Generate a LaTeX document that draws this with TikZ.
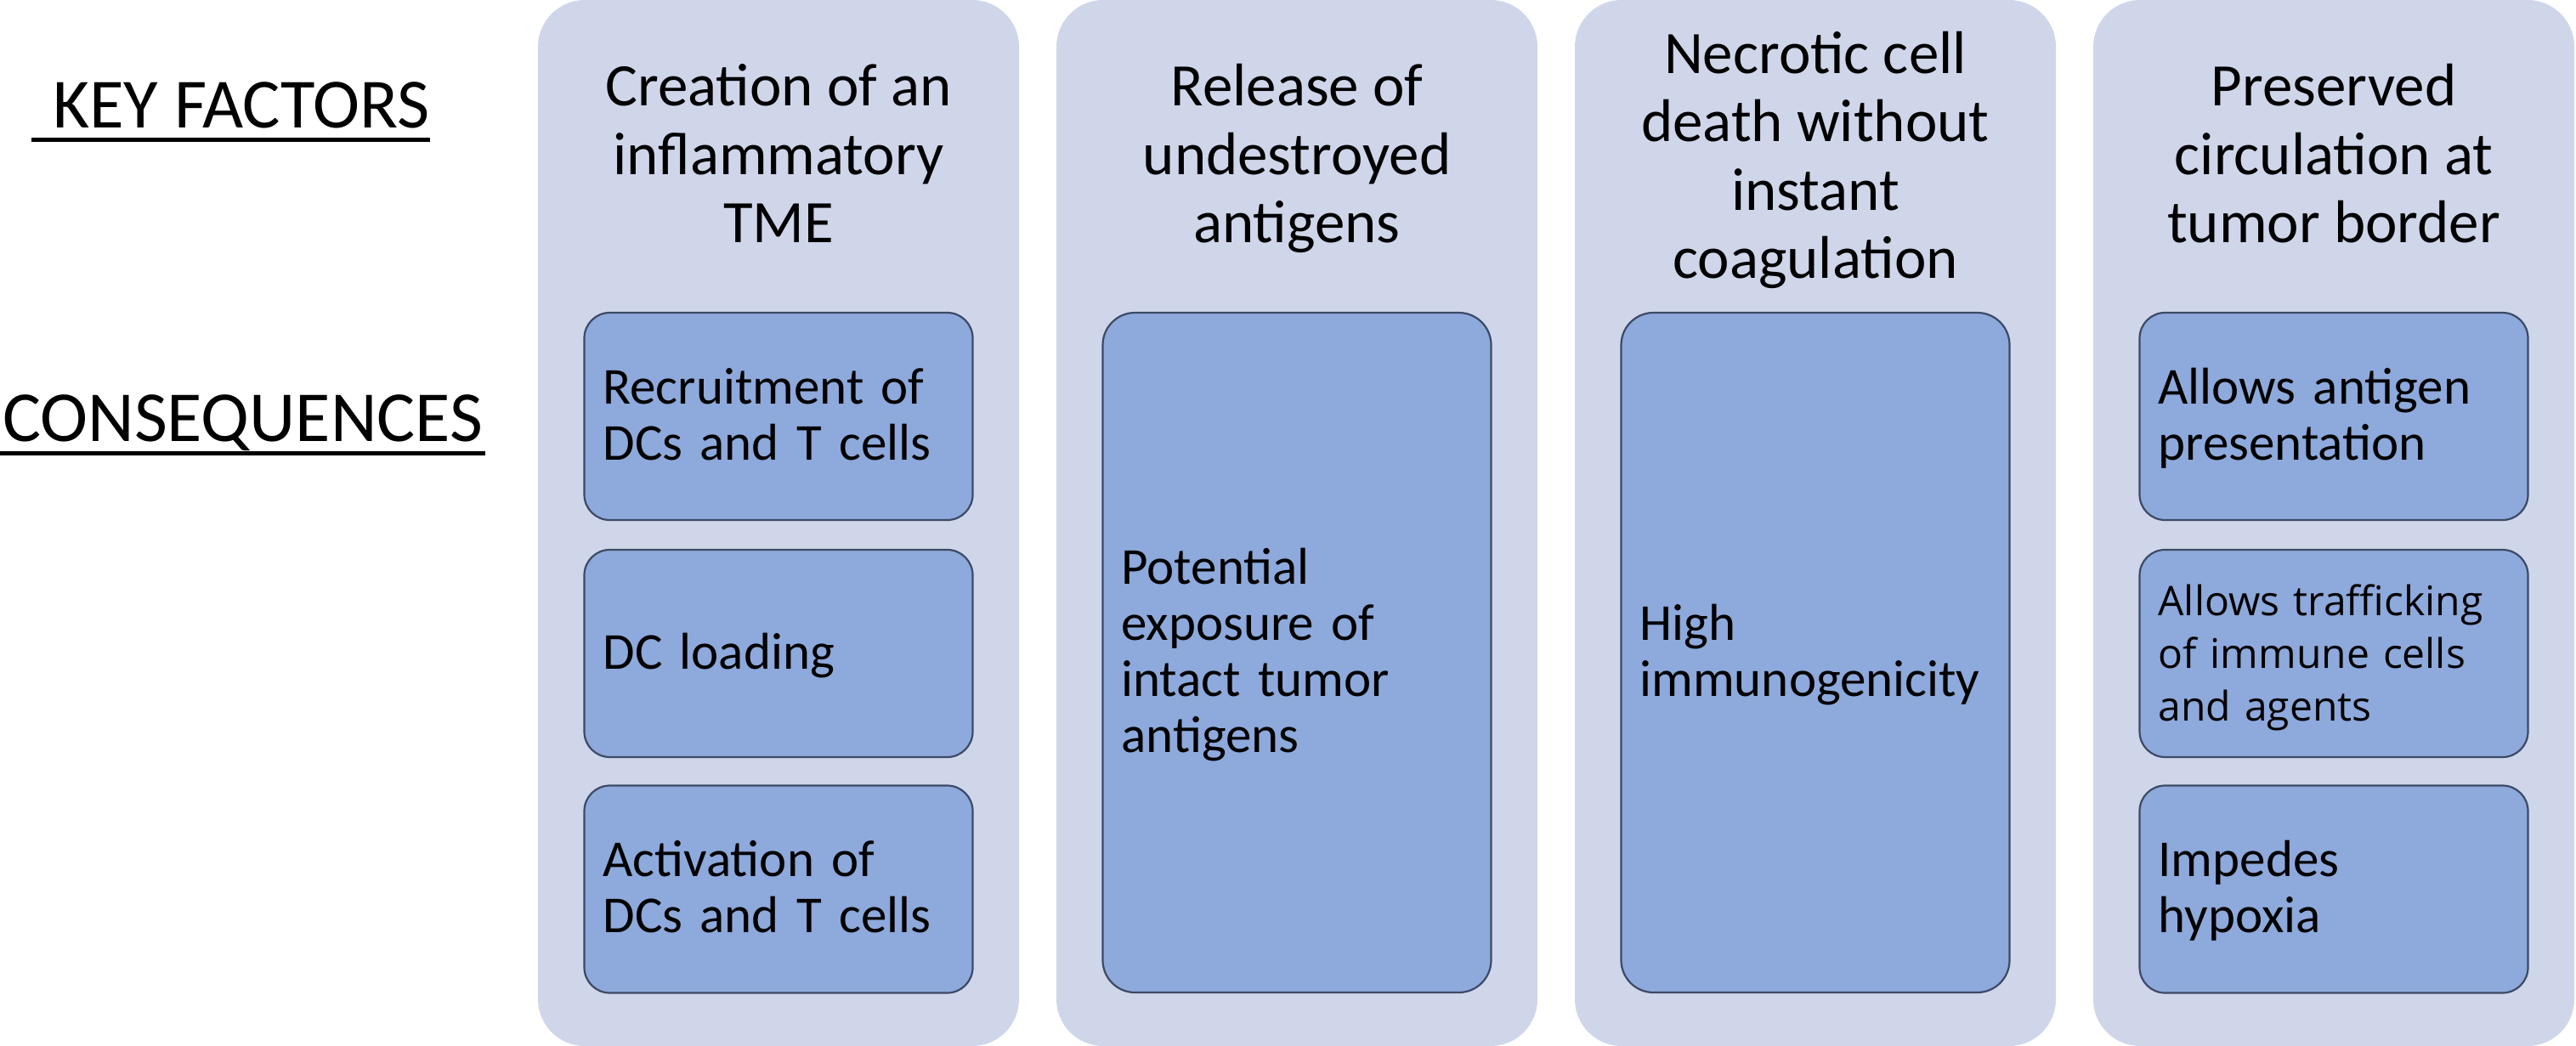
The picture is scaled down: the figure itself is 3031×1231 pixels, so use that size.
\documentclass[tikz,border=0pt]{standalone}
\usepackage{fontspec}
\setmainfont{Carlito}
\newfontfamily\osans{Open Sans}
\usetikzlibrary{calc}
\definecolor{colbg}{HTML}{D0D6EA}
\definecolor{boxfill}{HTML}{8EA9DB}
\definecolor{boxline}{HTML}{3C4A66}
\newcommand\tstrut{\rule{0pt}{\dimexpr0.7\baselineskip+10pt\relax}}
\begin{document}
\begin{tikzpicture}[x=1pt,y=-1pt,
  colbox/.style={fill=colbg, rounded corners=55pt, minimum width=566pt, minimum height=1231pt, inner sep=0pt},
  hdr/.style={align=center, inner sep=0pt, font=\fontsize{71}{80.5}\selectfont},
  cbox/.style={draw=boxline, line width=2.2pt, fill=boxfill, rounded corners=30pt, minimum width=457pt, text width=413pt, inner xsep=22pt, inner ysep=0pt, align=left, font=\fontsize{61}{66}\selectfont},
  smallbox/.style={cbox, minimum height=244pt},
  tallbox/.style={cbox, minimum height=800pt, rounded corners=38pt},
  side/.style={inner sep=0pt, anchor=base west},
  uline/.style={line width=5pt}
]
\useasboundingbox (0,0) rectangle (3031,1231);

% side labels
\node[side, font=\fontsize{83}{97}\selectfont] (kf) at (62,150) {KEY FACTORS};
\draw[uline] ($(kf.base west)+(-25,14)$) -- ($(kf.base east)+(0,14)$);
\node[side, font=\fontsize{84.5}{97}\selectfont] (cq) at (3,519) {CONSEQUENCES};
\draw[uline] ($(cq.base west)+(-3,14)$) -- ($(cq.base east)+(3,14)$);

% columns
\node[colbox] (c1) at (916,615.5) {};
\node[colbox] (c2) at (1526,615.5) {};
\node[colbox] (c3) at (2136,615.5) {};
\node[colbox] (c4) at (2746,615.5) {};

% headers
\node[hdr] (h1) at (916,189) {\strut Creation of an\\inflammatory\\TME\strut};
\node[hdr] (h2) at (1526,189) {\strut Release of\\undestroyed\\antigens\strut};
\node[hdr] (h3) at (2136,191) {\strut Necrotic cell\\death without\\instant\\coagulation\strut};
\node[hdr] (h4) at (2746,189) {\strut Preserved\\circulation at\\tumor border\strut};

% consequence boxes
\node[smallbox] (b11) at (916,490) {\tstrut Recruitment of\\DCs and T cells\strut};
\node[smallbox] (b12) at (916,769) {\tstrut DC loading\strut};
\node[smallbox] (b13) at (916,1046.5) {\tstrut Activation of\\DCs and T cells\strut};

\node[tallbox] (b2) at (1526,768) {\tstrut Potential\\exposure of\\intact tumor\\antigens\strut};

\node[tallbox] (b3) at (2136,768) {\tstrut High\\immunogenicity\strut};

\node[smallbox] (b41) at (2746,490) {\tstrut Allows antigen\\presentation\strut};
\node[smallbox, font=\osans\fontsize{48}{62}\selectfont] (b42) at (2746,769) {\tstrut Allows trafficking\\of immune cells\\and agents\strut};
\node[smallbox] (b43) at (2746,1046.5) {\tstrut Impedes\\hypoxia\strut};
\end{tikzpicture}
\end{document}
